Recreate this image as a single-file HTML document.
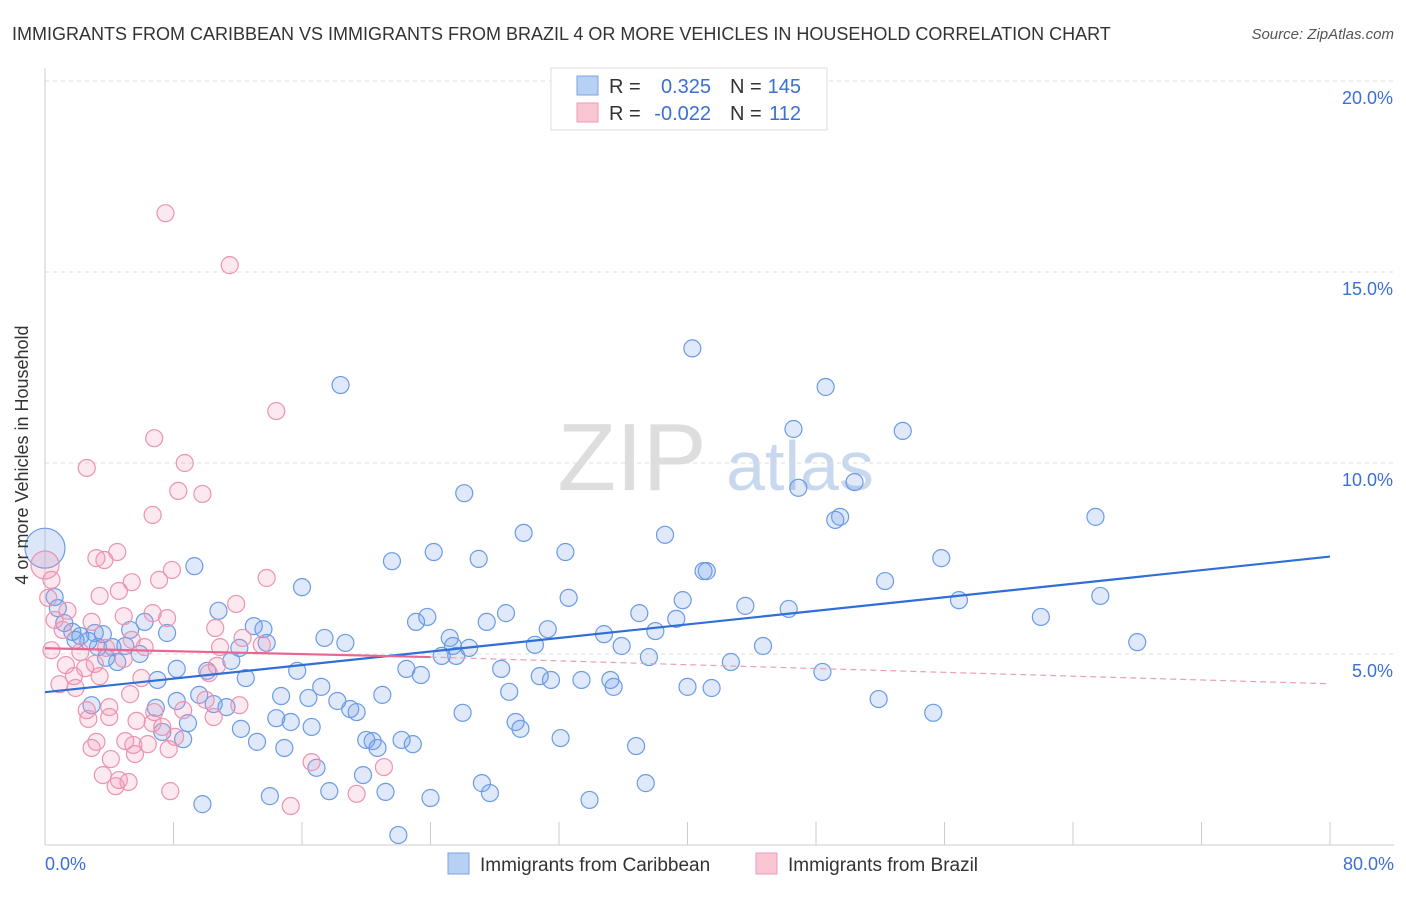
<!DOCTYPE html>
<html><head><meta charset="utf-8"><style>
body{margin:0;background:#fff;font-family:"Liberation Sans",sans-serif;}
svg text{font-family:"Liberation Sans",sans-serif;}
</style></head><body>
<svg id="chart" width="1406" height="892" viewBox="0 0 1406 892">
<text x="12" y="40" font-size="18" fill="#333">IMMIGRANTS FROM CARIBBEAN VS IMMIGRANTS FROM BRAZIL 4 OR MORE VEHICLES IN HOUSEHOLD CORRELATION CHART</text>
<text x="1394" y="39" font-size="15" fill="#555" font-style="italic" text-anchor="end">Source: ZipAtlas.com</text>
<text x="632" y="490" font-size="96" fill="#ddd" font-family="Liberation Serif" text-anchor="middle">ZIP</text>
<text x="800" y="490" font-size="70" fill="#c8d8ee" text-anchor="middle">atlas</text>
<g id="grid"></g>
<g id="axes"></g>
<g id="pts"></g>
<g id="trend"></g>
<text x="28" y="455" font-size="18" fill="#333" text-anchor="middle" transform="rotate(-90 28 455)">4 or more Vehicles in Household</text>
<text x="45" y="870" font-size="18" fill="#3b6fd4">0.0%</text>
<text x="1394" y="870" font-size="18" fill="#3b6fd4" text-anchor="end">80.0%</text>
<g>
<rect x="551" y="68" width="276" height="62" fill="#fff" stroke="#ddd"/>
<rect x="577" y="76" width="21" height="19" fill="#b8d0f4" stroke="#7aa3e6"/>
<rect x="577" y="103" width="21" height="19" fill="#f9c6d4" stroke="#ee9ab4"/>
<text x="609" y="93" font-size="20" fill="#333">R =</text>
<text x="711" y="93" font-size="20" fill="#3b6fd4" text-anchor="end">0.325</text>
<text x="730" y="93" font-size="20" fill="#333">N =</text>
<text x="801" y="93" font-size="20" fill="#3b6fd4" text-anchor="end">145</text>
<text x="609" y="120" font-size="20" fill="#333">R =</text>
<text x="711" y="120" font-size="20" fill="#3b6fd4" text-anchor="end">-0.022</text>
<text x="730" y="120" font-size="20" fill="#333">N =</text>
<text x="801" y="120" font-size="20" fill="#3b6fd4" text-anchor="end">112</text>
</g>
<g>
<rect x="448" y="853" width="21" height="21" fill="#b8d0f4" stroke="#7aa3e6"/>
<text x="480" y="871" font-size="19" fill="#333">Immigrants from Caribbean</text>
<rect x="756" y="853" width="21" height="21" fill="#f9c6d4" stroke="#ee9ab4"/>
<text x="788" y="871" font-size="19" fill="#333">Immigrants from Brazil</text>
</g>
</svg>
<script>
const yTicks=[5,10,15,20];
const xTickVals=[0,8,16,24,32,40,48,56,64,72,80];
const blueX=[40.3,18.4,48.6,46.6,53.4,26.1,46.9,50.4,49.2,49.5,65.4,29.8,38.6,24.2,32.4,21.6,27.0,9.3,55.8,41.0,41.2,52.3,16.0,32.6,39.7,65.7,56.9,43.6,46.3,10.8,28.7,37.0,23.8,62.0,39.3,23.1,27.5,13.6,13.0,31.3,38.0,7.6,34.8,17.4,25.2,68.0,18.7,13.8,30.5,25.4,35.9,44.7,12.1,26.4,24.7,25.6,37.6,11.6,8.2,28.4,42.7,10.1,15.7,22.5,23.4,48.4,12.5,30.8,31.5,33.4,35.2,35.4,7.0,17.2,40.0,41.5,28.9,9.6,14.7,16.4,21.0,8.2,18.2,2.9,10.5,11.3,6.9,19.0,19.4,51.9,55.3,26.0,14.4,15.3,8.9,29.3,29.6,12.2,7.3,8.6,16.6,20.0,20.4,20.7,22.2,22.9,32.1,13.2,36.8,14.9,16.9,19.8,27.2,37.4,17.7,21.2,27.7,14.0,24.0,33.9,9.8,22.0,0.6,0.8,1.2,1.7,2.2,2.7,3.3,3.8,4.5,5.0,5.3,5.9,6.2,4.2,3.1,1.9,3.6];
const blueY=[13.0,12.04,11.99,10.89,10.84,9.21,9.35,9.50,8.51,8.59,8.59,8.17,8.12,7.67,7.67,7.43,7.49,7.30,7.51,7.17,7.17,6.91,6.75,6.47,6.41,6.52,6.41,6.26,6.18,6.13,6.07,6.07,5.97,5.97,5.92,5.84,5.84,5.65,5.73,5.65,5.60,5.55,5.52,5.42,5.42,5.31,5.29,5.29,5.24,5.21,5.21,5.21,5.16,5.16,4.95,4.95,4.92,4.82,4.61,4.61,4.79,4.56,4.56,4.61,4.45,4.53,4.37,4.42,4.32,4.32,4.32,4.14,4.32,4.14,4.14,4.11,4.01,3.93,3.90,3.85,3.93,3.77,3.77,3.66,3.69,3.61,3.59,3.56,3.48,3.82,3.46,3.46,3.32,3.22,3.19,3.22,3.04,3.04,2.96,2.77,3.09,2.75,2.72,2.54,2.75,2.64,2.80,2.70,2.59,2.54,2.02,1.83,1.62,1.62,1.41,1.39,1.36,1.28,1.23,1.18,1.07,0.26,6.49,6.20,5.81,5.58,5.47,5.34,5.18,4.90,4.79,5.21,5.63,5.00,5.84,5.18,5.55,5.37,5.52];
const pinkX=[7.5,11.5,14.4,6.8,8.7,2.6,8.3,9.8,6.7,3.2,4.5,3.7,7.9,13.8,7.1,5.4,4.6,3.4,11.9,6.7,1.4,4.9,7.6,2.9,10.6,12.3,5.4,0.6,1.1,10.9,13.5,6.2,3.8,2.2,0.4,4.9,3.1,1.3,10.7,2.5,10.2,1.8,3.4,6.0,0.9,1.9,5.3,10.0,12.1,2.6,4.0,8.6,6.8,10.5,2.7,4.0,5.7,6.7,7.3,5.0,3.2,6.4,8.1,5.5,2.9,7.7,5.6,4.1,16.6,21.1,3.6,4.6,4.4,5.2,7.8,19.4,15.3,0.2,0.4];
const pinkY=[16.54,15.18,11.36,10.65,10.0,9.87,9.27,9.19,8.64,7.51,7.67,7.46,7.20,6.99,6.94,6.88,6.65,6.52,6.31,6.07,6.13,5.99,5.94,5.84,5.68,5.42,5.37,5.89,5.63,5.18,5.24,5.18,5.16,5.05,5.10,4.87,4.74,4.71,4.69,4.63,4.50,4.42,4.42,4.37,4.21,4.11,3.95,3.80,3.66,3.53,3.61,3.53,3.48,3.35,3.30,3.35,3.25,3.19,3.09,2.72,2.70,2.64,2.83,2.62,2.54,2.51,2.38,2.25,2.17,2.04,1.83,1.70,1.54,1.65,1.41,1.34,1.02,6.47,6.94];
const blueTrend=[[0,4.0],[80,7.55]];
const pinkTrend=[[0,5.15],[24,4.92],[80,4.22]];
const NS='http://www.w3.org/2000/svg';
const X=v=>45+v/80*1285;
const Y=v=>845-v/5*191;
function mk(tag,attrs,parent){const e=document.createElementNS(NS,tag);for(const k in attrs)e.setAttribute(k,attrs[k]);parent.appendChild(e);return e;}
const grid=document.getElementById('grid'),axes=document.getElementById('axes'),pts=document.getElementById('pts'),trend=document.getElementById('trend');
yTicks.forEach(t=>{
 const l=mk('line',{x1:45,x2:1394,y1:Y(t),y2:Y(t),stroke:'#ddd','stroke-dasharray':'4,4'},grid);
 
 
 const tx=mk('text',{x:1393,y:Y(t)+23,'font-size':18,fill:'#3b6fd4','text-anchor':'end'},grid);
 tx.textContent=t.toFixed(1)+'%';
 
 
});
let al=mk('line',{x1:45,x2:45,y1:68,y2:845,stroke:'#ccc'},axes);


let bl=mk('line',{x1:45,x2:1394,y1:845,y2:845,stroke:'#ccc'},axes);


xTickVals.forEach(t=>{
 const l=mk('line',{x1:X(t),x2:X(t),y1:822,y2:845,stroke:'#ccc'},axes);
 
 
});
let big=mk('circle',{cx:X(0),cy:Y(7.77),r:20,fill:'rgba(110,155,230,0.25)',stroke:'#6b9be6','stroke-width':1.2},pts);


let bigp=mk('circle',{cx:X(0),cy:Y(7.33),r:14,fill:'rgba(240,150,180,0.25)',stroke:'#ec93b0','stroke-width':1.2},pts);


blueX.forEach((x,i)=>{
 const c=mk('circle',{cx:X(x),cy:Y(blueY[i]),r:8.5,fill:'rgba(110,155,230,0.22)',stroke:'#6b9be6','stroke-width':1.2},pts);
 
 
});
pinkX.forEach((x,i)=>{
 const c=mk('circle',{cx:X(x),cy:Y(pinkY[i]),r:8.5,fill:'rgba(240,150,180,0.22)',stroke:'#ec93b0','stroke-width':1.2},pts);
 
 
});
let bt=mk('line',{x1:X(blueTrend[0][0]),y1:Y(blueTrend[0][1]),x2:X(blueTrend[1][0]),y2:Y(blueTrend[1][1]),stroke:'#2f6fd6','stroke-width':2.2},trend);


let pt1=mk('line',{x1:X(pinkTrend[0][0]),y1:Y(pinkTrend[0][1]),x2:X(pinkTrend[1][0]),y2:Y(pinkTrend[1][1]),stroke:'#e8668f','stroke-width':2.2},trend);


let pt2=mk('line',{x1:X(pinkTrend[1][0]),y1:Y(pinkTrend[1][1]),x2:X(pinkTrend[2][0]),y2:Y(pinkTrend[2][1]),stroke:'#e8a0b6','stroke-width':1.2,'stroke-dasharray':'6,4'},trend);


</script>
</body></html>
